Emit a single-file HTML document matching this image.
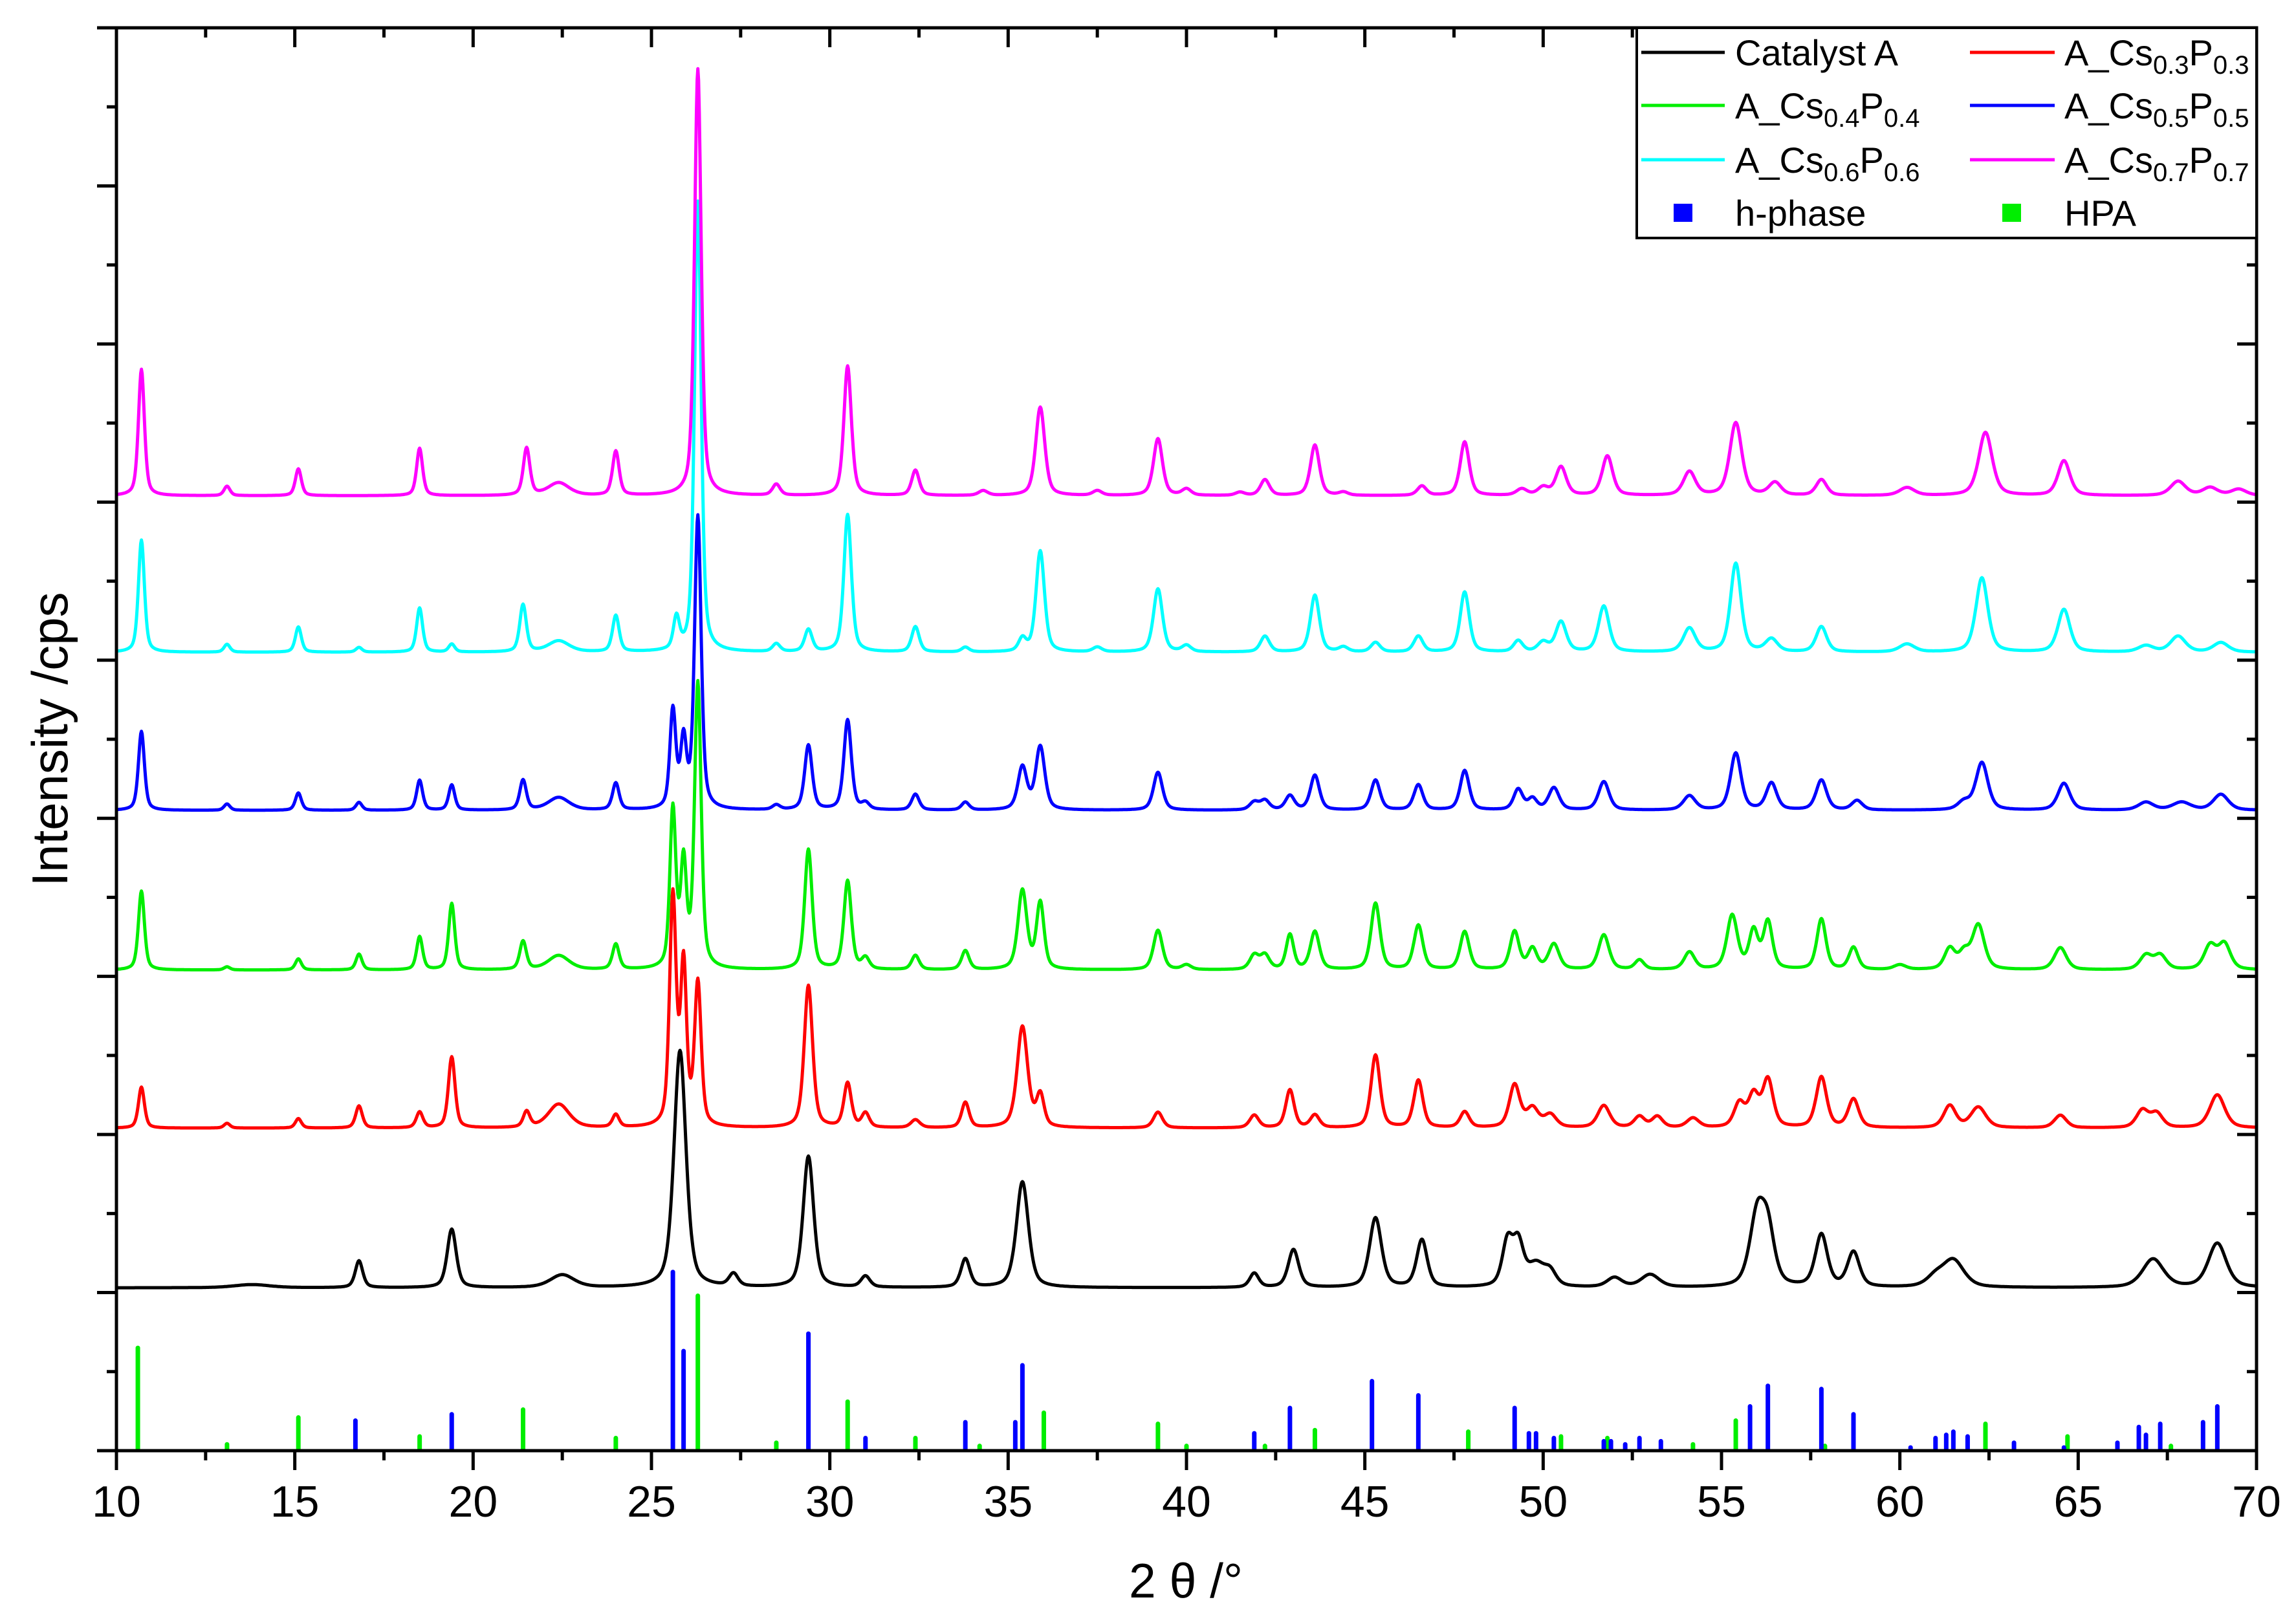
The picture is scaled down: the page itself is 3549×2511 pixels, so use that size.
<!DOCTYPE html>
<html><head><meta charset="utf-8">
<style>
html,body{margin:0;padding:0;background:#fff;}
svg{display:block;font-family:"Liberation Sans",Arial,sans-serif;}
</style></head>
<body>
<svg id="chart" width="3549" height="2511" viewBox="0 0 3549 2511" xmlns="http://www.w3.org/2000/svg">
<g id="series"></g>
<g id="sticks"></g>
<g id="axes"></g>
<text x="0" y="0" font-size="78" text-anchor="middle" transform="translate(104,1143) rotate(-90)">Intensity /cps</text>
<text x="1833" y="2470" font-size="75" text-anchor="middle">2 θ /°</text>
<g font-size="56">
<rect x="2530" y="43" width="958" height="325" fill="#fff" stroke="#000" stroke-width="4"/>
<g><line x1="2537" x2="2666" y1="81" y2="81" stroke="#000" stroke-width="5"/><text x="2682" y="101">Catalyst A</text></g>
<g><line x1="3045" x2="3176" y1="81" y2="81" stroke="#ff0000" stroke-width="5"/><text x="3191" y="101">A_Cs<tspan font-size="40" dy="13">0.3</tspan><tspan dy="-13">P</tspan><tspan font-size="40" dy="13">0.3</tspan></text></g>
<g><line x1="2537" x2="2666" y1="163" y2="163" stroke="#00ee00" stroke-width="5"/><text x="2682" y="183">A_Cs<tspan font-size="40" dy="13">0.4</tspan><tspan dy="-13">P</tspan><tspan font-size="40" dy="13">0.4</tspan></text></g>
<g><line x1="3045" x2="3176" y1="163" y2="163" stroke="#0000ff" stroke-width="5"/><text x="3191" y="183">A_Cs<tspan font-size="40" dy="13">0.5</tspan><tspan dy="-13">P</tspan><tspan font-size="40" dy="13">0.5</tspan></text></g>
<g><line x1="2537" x2="2666" y1="247" y2="247" stroke="#00ffff" stroke-width="5"/><text x="2682" y="267">A_Cs<tspan font-size="40" dy="13">0.6</tspan><tspan dy="-13">P</tspan><tspan font-size="40" dy="13">0.6</tspan></text></g>
<g><line x1="3045" x2="3176" y1="247" y2="247" stroke="#ff00ff" stroke-width="5"/><text x="3191" y="267">A_Cs<tspan font-size="40" dy="13">0.7</tspan><tspan dy="-13">P</tspan><tspan font-size="40" dy="13">0.7</tspan></text></g>
<g><rect x="2587" y="315" width="29" height="28" fill="#0000ff"/><text x="2682" y="349">h-phase</text></g>
<g><rect x="3095" y="315" width="29" height="28" fill="#00ee00"/><text x="3191" y="349">HPA</text></g>
</g>
</svg>
<script>
// ---------- data ----------
const xTicks = [10,15,20,25,30,35,40,45,50,55,60,65,70];
const seriesNames = ["Catalyst A","A_Cs0.3P0.3","A_Cs0.4P0.4","A_Cs0.5P0.5","A_Cs0.6P0.6","A_Cs0.7P0.7"];
const seriesOffsets = [1.03,2.04,3.04,4.05,5.05,6.04];

const blackPos = [13.8,16.8,19.4,22.5,25.8,27.3,29.4,31.0,33.8,35.4,41.9,43.0,45.3,46.6,49.0,49.3,49.8,50.2,52.0,53.0,56.0,56.3,57.8,58.7,61.0,61.5,67.1,68.9];
const blackAmp = [0.02,0.17,0.37,0.08,1.5,0.08,0.83,0.07,0.18,0.67,0.09,0.24,0.44,0.3,0.28,0.26,0.14,0.08,0.06,0.08,0.44,0.32,0.33,0.22,0.06,0.17,0.18,0.28];
const blackWid = [1.2,0.25,0.3,0.8,0.4,0.3,0.35,0.3,0.3,0.4,0.3,0.35,0.4,0.35,0.35,0.35,0.6,0.4,0.5,0.6,0.5,0.45,0.4,0.4,0.6,0.7,0.7,0.6];

const redPos = [10.7,13.1,15.1,16.8,18.5,19.4,21.5,22.4,24.0,25.6,25.9,26.3,29.4,30.5,31.0,32.4,33.8,35.4,35.9,39.2,41.9,42.9,43.6,45.3,46.5,47.8,49.2,49.7,50.2,51.7,52.7,53.2,54.2,55.5,55.9,56.3,57.8,58.7,61.4,62.2,64.5,66.8,67.2,68.9];
const redAmp = [0.26,0.03,0.06,0.14,0.1,0.45,0.1,0.15,0.08,1.45,1.0,0.9,0.9,0.28,0.09,0.05,0.16,0.64,0.2,0.1,0.08,0.24,0.08,0.46,0.3,0.1,0.27,0.12,0.08,0.14,0.07,0.07,0.06,0.15,0.2,0.3,0.32,0.18,0.14,0.13,0.08,0.11,0.09,0.21];
const redWid = [0.2,0.2,0.2,0.22,0.22,0.22,0.22,0.7,0.22,0.22,0.2,0.22,0.28,0.25,0.25,0.3,0.25,0.35,0.25,0.3,0.3,0.28,0.3,0.3,0.3,0.3,0.35,0.4,0.4,0.4,0.35,0.35,0.4,0.35,0.35,0.35,0.35,0.35,0.4,0.5,0.4,0.4,0.4,0.5];

const greenPos = [10.7,13.1,15.1,16.8,18.5,19.4,21.4,22.4,24.0,25.6,25.9,26.3,29.4,30.5,31.0,32.4,33.8,35.4,35.9,39.2,40.0,41.9,42.2,42.9,43.6,45.3,46.5,47.8,49.2,49.7,50.3,51.7,52.7,54.1,55.3,55.9,56.3,57.8,58.7,60.0,61.4,61.8,62.2,64.5,66.9,67.3,68.7,69.1];
const greenAmp = [0.5,0.02,0.07,0.1,0.21,0.42,0.18,0.09,0.16,1.0,0.65,1.8,0.76,0.56,0.07,0.09,0.12,0.5,0.42,0.25,0.03,0.09,0.09,0.22,0.24,0.42,0.28,0.24,0.24,0.13,0.16,0.22,0.06,0.11,0.34,0.24,0.3,0.32,0.14,0.03,0.13,0.1,0.28,0.14,0.09,0.09,0.15,0.16];
const greenWid = [0.2,0.2,0.2,0.2,0.2,0.2,0.22,0.7,0.22,0.2,0.2,0.22,0.25,0.25,0.25,0.25,0.25,0.3,0.25,0.3,0.3,0.3,0.3,0.25,0.3,0.3,0.3,0.3,0.3,0.3,0.35,0.35,0.3,0.35,0.35,0.3,0.3,0.3,0.3,0.4,0.35,0.35,0.4,0.4,0.4,0.4,0.4,0.4];

const bluePos = [10.7,13.1,15.1,16.8,18.5,19.4,21.4,22.4,24.0,25.6,25.9,26.3,28.5,29.4,30.5,31.0,32.4,33.8,35.4,35.9,39.2,41.9,42.2,42.9,43.6,45.3,46.5,47.8,49.3,49.7,50.3,51.7,54.1,55.4,56.4,57.8,58.8,61.8,62.3,64.6,66.9,67.9,69.0];
const blueAmp = [0.5,0.04,0.11,0.05,0.19,0.16,0.19,0.08,0.17,0.62,0.42,1.85,0.03,0.41,0.57,0.04,0.1,0.05,0.27,0.4,0.24,0.05,0.06,0.09,0.22,0.19,0.16,0.25,0.13,0.07,0.14,0.18,0.09,0.36,0.17,0.19,0.06,0.05,0.3,0.17,0.05,0.05,0.1];
const blueWid = [0.2,0.2,0.2,0.2,0.2,0.2,0.22,0.7,0.22,0.2,0.2,0.22,0.25,0.25,0.25,0.25,0.25,0.25,0.3,0.3,0.3,0.3,0.3,0.3,0.3,0.3,0.3,0.3,0.3,0.3,0.35,0.35,0.4,0.35,0.35,0.35,0.35,0.4,0.4,0.4,0.5,0.6,0.5];

const cyanPos = [10.7,13.1,15.1,16.8,18.5,19.4,21.4,22.4,24.0,25.7,26.3,28.5,29.4,30.5,32.4,33.8,35.4,35.9,37.5,39.2,40.0,42.2,43.6,44.4,45.3,46.5,47.8,49.3,50.0,50.5,51.7,54.1,55.4,56.4,57.8,60.2,62.3,64.6,66.9,67.8,69.0];
const cyanAmp = [0.71,0.05,0.16,0.03,0.28,0.05,0.3,0.07,0.23,0.2,2.85,0.05,0.14,0.87,0.16,0.03,0.08,0.64,0.03,0.4,0.04,0.1,0.36,0.03,0.06,0.1,0.38,0.07,0.06,0.19,0.29,0.15,0.56,0.08,0.16,0.05,0.47,0.27,0.04,0.1,0.06];
const cyanWid = [0.2,0.2,0.2,0.2,0.2,0.2,0.22,0.7,0.22,0.2,0.22,0.25,0.25,0.25,0.25,0.25,0.25,0.28,0.3,0.3,0.3,0.3,0.3,0.3,0.3,0.3,0.3,0.3,0.35,0.35,0.35,0.4,0.35,0.4,0.35,0.5,0.4,0.4,0.5,0.5,0.5];

const magentaPos = [10.7,13.1,15.1,18.5,21.5,22.4,24.0,26.3,28.5,30.5,32.4,34.3,35.9,37.5,39.2,40.0,41.5,42.2,43.6,44.4,46.6,47.8,49.4,50.0,50.5,51.8,54.1,55.4,56.5,57.8,60.2,62.4,64.6,67.8,68.7,69.5];
const magentaAmp = [0.8,0.06,0.17,0.3,0.3,0.08,0.28,2.7,0.07,0.82,0.16,0.03,0.56,0.03,0.36,0.04,0.02,0.1,0.32,0.02,0.06,0.34,0.04,0.05,0.18,0.25,0.15,0.46,0.08,0.1,0.05,0.4,0.22,0.09,0.05,0.04];
const magentaWid = [0.2,0.2,0.2,0.2,0.22,0.7,0.22,0.22,0.25,0.25,0.25,0.3,0.3,0.3,0.3,0.3,0.3,0.3,0.3,0.3,0.3,0.3,0.35,0.35,0.35,0.35,0.4,0.4,0.4,0.35,0.5,0.45,0.4,0.5,0.5,0.5];

const hPhasePos = [16.7,19.4,25.6,25.9,29.4,31.0,33.8,35.2,35.4,41.9,42.9,45.2,46.5,49.2,49.6,49.8,50.3,51.7,51.9,52.3,52.7,53.3,55.8,56.3,57.8,58.7,60.3,61.0,61.3,61.5,61.9,63.2,64.6,66.1,66.7,66.9,67.3,68.5,68.9];
const hPhaseAmp = [0.19,0.23,1.13,0.63,0.74,0.08,0.18,0.18,0.54,0.11,0.27,0.44,0.35,0.27,0.11,0.11,0.08,0.06,0.06,0.04,0.08,0.06,0.28,0.41,0.39,0.23,0.02,0.08,0.1,0.12,0.09,0.05,0.02,0.05,0.15,0.1,0.17,0.18,0.28];
const hpaPos = [10.6,13.1,15.1,18.5,21.4,24.0,26.3,28.5,30.5,32.4,34.2,36.0,39.2,40.0,42.2,43.6,47.9,50.5,51.8,54.2,55.4,57.9,62.4,64.7,67.6];
const hpaAmp = [0.65,0.04,0.21,0.09,0.26,0.08,0.98,0.05,0.31,0.08,0.03,0.24,0.17,0.03,0.03,0.13,0.12,0.09,0.08,0.04,0.19,0.03,0.17,0.09,0.03];

// ---------- scales ----------
const X0=180, X1=3488, YB=2243, YT=43;
const xMin=10, xMax=70, yMin=0, yMax=9;
function sx(v){return X0+(v-xMin)/(xMax-xMin)*(X1-X0);}
function sy(v){return YB-(v-yMin)/(yMax-yMin)*(YB-YT);}
const NS="http://www.w3.org/2000/svg";
function mk(tag,attrs,parent){const e=document.createElementNS(NS,tag);for(const k in attrs)e.setAttribute(k,attrs[k]);parent.appendChild(e);return e;}

// ---------- series ----------
const seriesPos=[blackPos,redPos,greenPos,bluePos,cyanPos,magentaPos];
const seriesAmp=[blackAmp,redAmp,greenAmp,blueAmp,cyanAmp,magentaAmp];
const seriesWid=[blackWid,redWid,greenWid,blueWid,cyanWid,magentaWid];
const colors=["#000000","#ff0000","#00ee00","#0000ff","#00ffff","#ff00ff"];
const gS=document.getElementById('series');
for(let s=0;s<6;s++){
  let d="";
  for(let x=10;x<=70.0001;x+=0.02){
    let y=seriesOffsets[s];
    const P=seriesPos[s],A=seriesAmp[s],W=seriesWid[s];
    for(let i=0;i<P.length;i++){
      const t=(x-P[i])/(W[i]/2);
      y+=A[i]*(0.5*Math.exp(-0.693*t*t)+0.5/(1+t*t));
    }
    d+=(d?"L":"M")+sx(x).toFixed(1)+","+sy(y).toFixed(1);
  }
  const p=mk('path',{d:d,fill:"none",stroke:colors[s],"stroke-width":5,"stroke-linejoin":"round"},gS);
  
  
}

// ---------- reference sticks ----------
const gK=document.getElementById('sticks');
function sticks(P,A,col,name){
  for(let i=0;i<P.length;i++){
    const l=mk('line',{x1:sx(P[i]),x2:sx(P[i]),y1:sy(0)-3,y2:sy(A[i]),stroke:col,"stroke-width":7,"stroke-linecap":"round"},gK);
    
    
  }
}
sticks(hpaPos,hpaAmp,"#00ee00","hpa-stick");
sticks(hPhasePos,hPhaseAmp,"#0000ff","h-phase-stick");

// ---------- axes ----------
const gA=document.getElementById('axes');
const frame=mk('rect',{x:X0,y:YT,width:X1-X0,height:YB-YT,fill:"none",stroke:"#000","stroke-width":5},gA);


for(let v=10;v<=70.001;v+=2.5){
  const major=Math.abs(v%5)<0.01, L=major?30:15, x=sx(v);
  mk('line',{x1:x,x2:x,y1:YB,y2:YB+L,stroke:"#000","stroke-width":5},gA);
  mk('line',{x1:x,x2:x,y1:YT,y2:YT+L,stroke:"#000","stroke-width":5},gA);
}
for(let v=0;v<=9.001;v+=0.5){
  const major=Math.abs(v%1)<0.01, L=major?30:15, y=sy(v);
  mk('line',{x1:X0-L,x2:X0,y1:y,y2:y,stroke:"#000","stroke-width":5},gA);
  mk('line',{x1:X1-L,x2:X1,y1:y,y2:y,stroke:"#000","stroke-width":5},gA);
}
xTicks.forEach(v=>{
  const t=mk('text',{x:sx(v),y:2345,"font-size":68,"text-anchor":"middle"},gA);
  t.textContent=v;
  
  
});
</script>
</body></html>
